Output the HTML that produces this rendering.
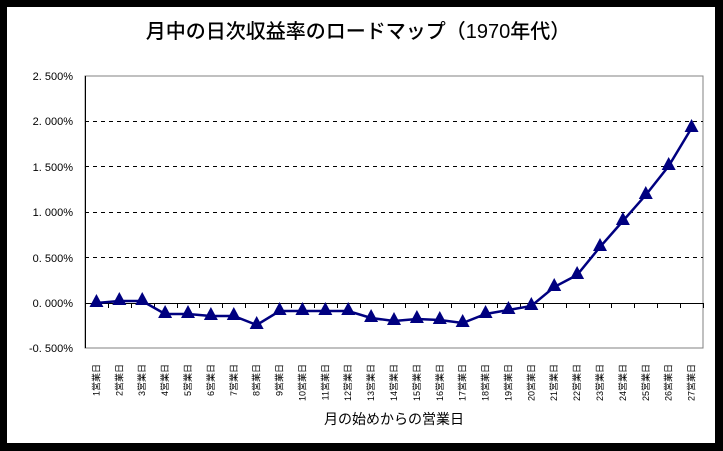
<!DOCTYPE html>
<html><head><meta charset="utf-8"><style>
html,body{margin:0;padding:0;background:#000;}
svg{display:block;}
text{font-family:"Liberation Sans","Noto Sans CJK JP",sans-serif;}
</style></head><body>
<svg width="723" height="451" xmlns="http://www.w3.org/2000/svg">
<rect x="0" y="0" width="723" height="451" fill="#000"/>
<rect x="7" y="7" width="708" height="436" fill="#fff"/>
<text x="358" y="38" font-size="20" text-anchor="middle" font-weight="500" font-family="'Noto Sans CJK JP',sans-serif">月中の日次収益率のロードマップ（1970年代）</text>
<rect x="85" y="76" width="618" height="272" fill="#fff" stroke="#808080" stroke-width="1"/>
<g stroke="#000" stroke-dasharray="4,4" stroke-width="1">
<line x1="85" y1="121.5" x2="703" y2="121.5"/>
<line x1="85" y1="166.5" x2="703" y2="166.5"/>
<line x1="85" y1="212.5" x2="703" y2="212.5"/>
<line x1="85" y1="257.5" x2="703" y2="257.5"/>
</g>
<line x1="85.5" y1="76" x2="85.5" y2="348" stroke="#000"/>
<line x1="85" y1="303.5" x2="703" y2="303.5" stroke="#000"/>
<g stroke="#000" id="ticks"></g>
<g font-size="11" text-anchor="end" fill="#000">
<text x="73" y="80">2. 500%</text>
<text x="73" y="125">2. 000%</text>
<text x="73" y="171">1. 500%</text>
<text x="73" y="216">1. 000%</text>
<text x="73" y="262">0. 500%</text>
<text x="73" y="307">0. 000%</text>
<text x="73" y="352">-0. 500%</text>
</g>
<g id="series"></g>
<g id="labels" font-size="9" fill="#000"></g>
<text x="394" y="424" font-size="14" text-anchor="middle">月の始めからの営業日</text>
<script>
var ys=[303,301,301,314,314,316,316,325,311,311,311,311,318,321,319,320,323,314,310,306,287,275,247,221,195,166,128];
var ns="http://www.w3.org/2000/svg";
var w=618/27;
var t=document.getElementById('ticks'),s=document.getElementById('series'),l=document.getElementById('labels');
for(var i=0;i<=27;i++){var x=Math.round(85+i*w)+0.5;var ln=document.createElementNS(ns,'line');ln.setAttribute('x1',x);ln.setAttribute('x2',x);ln.setAttribute('y1',303);ln.setAttribute('y2',308);t.appendChild(ln);}
var pts=[];
for(var i=0;i<27;i++){var x=85+(i+0.5)*w;pts.push(x.toFixed(1)+','+ys[i]);}
var pl=document.createElementNS(ns,'polyline');pl.setAttribute('points',pts.join(' '));pl.setAttribute('fill','none');pl.setAttribute('stroke','#000080');pl.setAttribute('stroke-width','2.5');s.appendChild(pl);
for(var i=0;i<27;i++){var x=85+(i+0.5)*w,y=ys[i];var p=document.createElementNS(ns,'polygon');p.setAttribute('points',(x)+','+(y-9)+' '+(x-7)+','+(y+4)+' '+(x+7)+','+(y+4));p.setAttribute('fill','#000080');s.appendChild(p);
var tx=document.createElementNS(ns,'text');tx.setAttribute('transform','translate('+(x+3)+',364) rotate(-90)');tx.setAttribute('text-anchor','end');tx.textContent=(i+1)+'営業日';l.appendChild(tx);}
</script>
</svg>
</body></html>
